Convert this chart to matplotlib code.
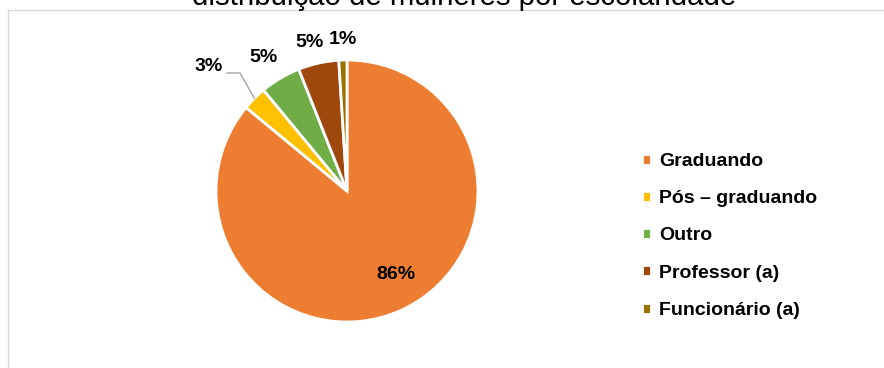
import numpy as np
import matplotlib.pyplot as plt
from matplotlib.patches import Rectangle

categorias = ["Graduando", "Pós – graduando", "Outro", "Professor (a)", "Funcionário (a)"]
valores = [86, 3, 5, 5, 1]
cores = ["#ED7D31", "#FFC000", "#70AD47", "#9E480E", "#997300"]
# posicao dos rotulos: distancia radial e desvio de angulo (graus) em relacao ao meio da fatia
dist_rotulo = [0.74, 1.42, 1.20, 1.17, 1.16]
desvio_rotulo = [5.2, 3.0, 1.4, 1.4, -0.3]

W, H = 884, 368
fig = plt.figure(figsize=(W / 100, H / 100), dpi=100)
fig.patch.set_facecolor("white")

# borda cinza da area do grafico
fig.patches.append(Rectangle((8 / W, -0.1), 1.1, 1 - 10 / H + 0.1, transform=fig.transFigure,
                             facecolor="none", edgecolor="#D9D9D9", linewidth=1.0))

fig.text(464 / W, 1 - 5 / H, "distribuição de mulheres por escolaridade",
         ha="center", va="baseline", fontsize=21.2, family=["Liberation Sans", "DejaVu Sans"])

cx, cy, r = 347, 191, 131
ax = fig.add_axes([(cx - r) / W, (H - cy - r) / H, 2 * r / W, 2 * r / H])
wedges, _ = ax.pie(valores, colors=cores, startangle=90, counterclock=False, radius=1,
                   wedgeprops=dict(edgecolor="white", linewidth=2))
ax.set_xlim(-1, 1)
ax.set_ylim(-1, 1)
ax.set_aspect("equal")
ax.axis("off")

fonte = ["Liberation Sans", "DejaVu Sans"]
for w, v, d, da in zip(wedges, valores, dist_rotulo, desvio_rotulo):
    ang = np.deg2rad((w.theta1 + w.theta2) / 2 + da)
    x, y = d * np.cos(ang), d * np.sin(ang)
    ax.text(x, y, f"{v}%", ha="center", va="center", fontsize=14, fontweight="bold",
            family=fonte, clip_on=False)

# linha guia do rotulo de 3%
w = wedges[1]
ang = np.deg2rad((w.theta1 + w.theta2) / 2)
x0, y0 = 1.0 * np.cos(ang), 1.0 * np.sin(ang)
ax.plot([x0, -0.817, -0.916], [y0, 0.901, 0.901], color="#A6A6A6", linewidth=1, clip_on=False)

fig.legend(wedges, categorias, loc="center left", bbox_to_anchor=(624 / W, (H - 236) / H),
           frameon=False, handlelength=0.5, handleheight=0.5, handletextpad=0.4,
           labelspacing=1.04, prop=dict(family=fonte, weight="bold", size=14))

fig.savefig("out.png", dpi=100)
